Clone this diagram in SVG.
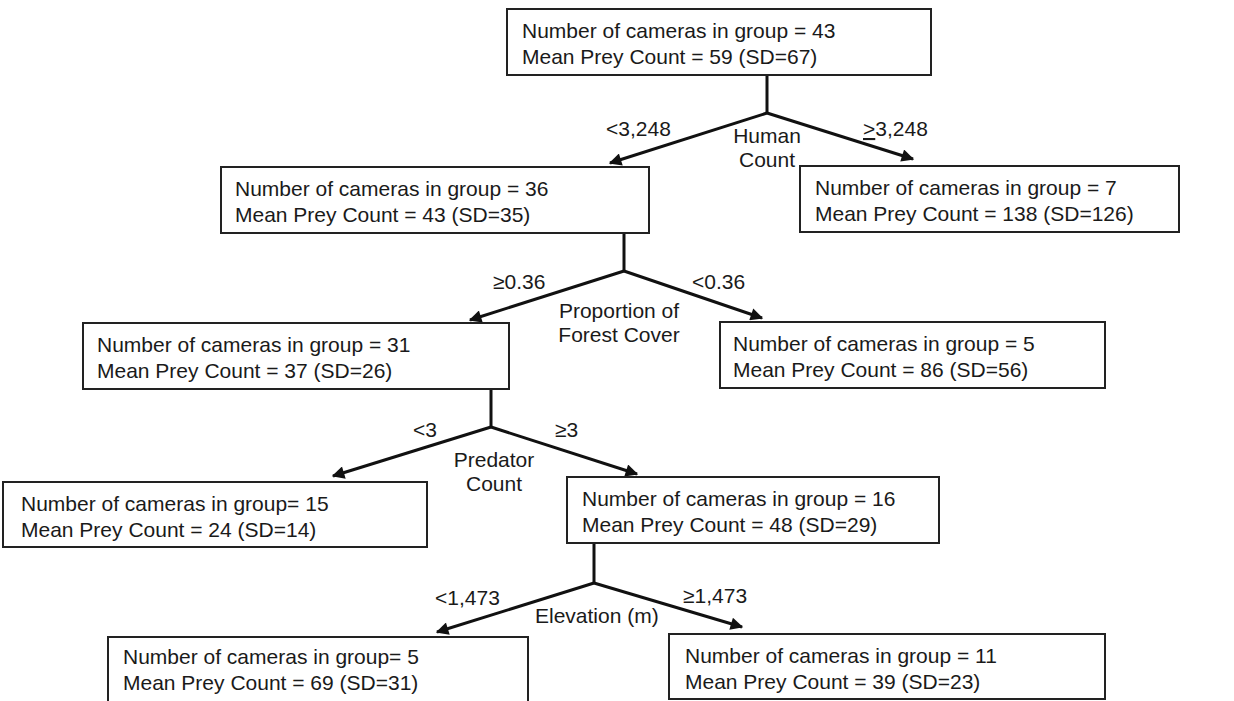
<svg xmlns="http://www.w3.org/2000/svg" width="1234" height="701" viewBox="0 0 1234 701">
<style>
text{font-family:"Liberation Sans",Arial,sans-serif;font-size:21px;fill:#1a1a1a}
.box{fill:#fff;stroke:#222;stroke-width:2}
.c{stroke:#111;stroke-width:3;fill:none}
.m{text-anchor:middle}
</style>
<defs>
<marker id="ah" viewBox="0 0 10 10" refX="9" refY="5" markerWidth="5" markerHeight="4.2" orient="auto" markerUnits="strokeWidth">
<path d="M0,0 L10,5 L0,10 Z" fill="#111"/>
</marker>
</defs>
<rect width="1234" height="701" fill="#fff"/>
<g id="connectors">
<path class="c" d="M767,75 V113"/>
<path class="c" d="M767,113 L610,163" marker-end="url(#ah)"/>
<path class="c" d="M767,113 L913,159" marker-end="url(#ah)"/>
<path class="c" d="M624,233 V271"/>
<path class="c" d="M624,271 L470,320" marker-end="url(#ah)"/>
<path class="c" d="M624,271 L762,318" marker-end="url(#ah)"/>
<path class="c" d="M491,389 V427"/>
<path class="c" d="M491,427 L333,476" marker-end="url(#ah)"/>
<path class="c" d="M491,427 L637,474" marker-end="url(#ah)"/>
<path class="c" d="M594,543 V583"/>
<path class="c" d="M594,583 L437,632" marker-end="url(#ah)"/>
<path class="c" d="M594,583 L742,627" marker-end="url(#ah)"/>
<text x="606" y="136">&lt;3,248</text>
<text x="863" y="136"><tspan text-decoration="underline">&gt;</tspan>3,248</text>
<text class="m" x="767" y="143">Human</text>
<text class="m" x="767" y="167">Count</text>
<text x="493" y="289">≥0.36</text>
<text x="692" y="289">&lt;0.36</text>
<text class="m" x="619" y="318">Proportion of</text>
<text class="m" x="619" y="342">Forest Cover</text>
<text x="413" y="437">&lt;3</text>
<text x="555" y="437">≥3</text>
<text class="m" x="494" y="467">Predator</text>
<text class="m" x="494" y="491">Count</text>
<text x="435" y="605">&lt;1,473</text>
<text x="683" y="603">≥1,473</text>
<text x="535" y="623">Elevation (m)</text>
</g>
<g id="n-root">
<rect class="box" x="507" y="9" width="424" height="66"/>
<text x="522" y="38">Number of cameras in group = 43</text>
<text x="522" y="64">Mean Prey Count = 59 (SD=67)</text>
</g>
<g id="n-36">
<rect class="box" x="221" y="167" width="428" height="66"/>
<text x="235" y="196">Number of cameras in group = 36</text>
<text x="235" y="222">Mean Prey Count = 43 (SD=35)</text>
</g>
<g id="n-7">
<rect class="box" x="800" y="166" width="379" height="66"/>
<text x="815" y="195">Number of cameras in group = 7</text>
<text x="815" y="221">Mean Prey Count = 138 (SD=126)</text>
</g>
<g id="n-31">
<rect class="box" x="83" y="323" width="426" height="66"/>
<text x="97" y="352">Number of cameras in group = 31</text>
<text x="97" y="378">Mean Prey Count = 37 (SD=26)</text>
</g>
<g id="n-5a">
<rect class="box" x="720" y="322" width="385" height="66"/>
<text x="733" y="351">Number of cameras in group = 5</text>
<text x="733" y="377">Mean Prey Count = 86 (SD=56)</text>
</g>
<g id="n-15">
<rect class="box" x="3" y="482" width="424" height="65"/>
<text x="21" y="511">Number of cameras in group= 15</text>
<text x="21" y="537">Mean Prey Count = 24 (SD=14)</text>
</g>
<g id="n-16">
<rect class="box" x="567" y="477" width="372" height="66"/>
<text x="582" y="506">Number of cameras in group = 16</text>
<text x="582" y="532">Mean Prey Count = 48 (SD=29)</text>
</g>
<g id="n-5b">
<rect class="box" x="108" y="637" width="420" height="70"/>
<text x="123" y="664">Number of cameras in group= 5</text>
<text x="123" y="690">Mean Prey Count = 69 (SD=31)</text>
</g>
<g id="n-11">
<rect class="box" x="669" y="634" width="436" height="65"/>
<text x="685" y="663">Number of cameras in group = 11</text>
<text x="685" y="689">Mean Prey Count = 39 (SD=23)</text>
</g>
</svg>
